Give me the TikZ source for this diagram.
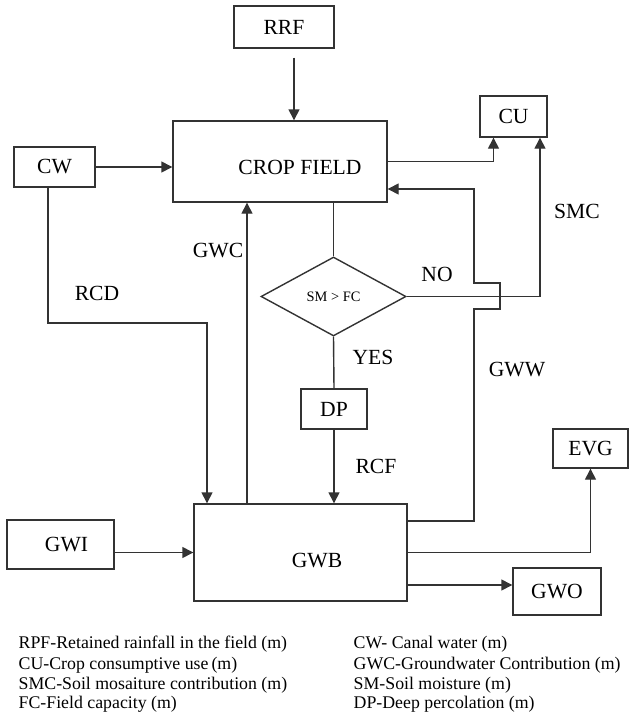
\documentclass[tikz,border=0pt]{standalone}
\usepackage{fontspec}
\setmainfont{Liberation Serif}
\usetikzlibrary{shapes.geometric,arrows.meta,positioning}

\begin{document}
\begin{tikzpicture}[
    x=0.5pt, y=-0.5pt,
    font=\fontsize{10.8}{13}\selectfont,
    line width=0.7pt,
    box/.style={rectangle, draw=black!80, inner sep=0pt, align=center},
    decision/.style={diamond, draw=black!80, inner sep=0pt, font=\fontsize{7.2}{9}\selectfont},
    arrow/.style={draw=black!80, -{Triangle[length=5.5pt,width=5.5pt]}},
    line/.style={draw=black!80},
    lbl/.style={inner sep=0pt},
    legend/.style={anchor=west, inner sep=0pt, font=\fontsize{8.9}{11}\selectfont}
]
\useasboundingbox (0,0) rectangle (630,712);

\node[box, minimum width=50pt, minimum height=21pt] (rrf) at (284,27) {RRF};
\node[box, minimum width=107pt, minimum height=40.5pt,
      label={[xshift=10pt,yshift=-2.75pt]center:CROP FIELD}] (crop) at (280,161.5) {};
\node[box, minimum width=40.5pt, minimum height=20pt] (cw) at (54.5,167) {CW};
\node[box, minimum width=33.5pt, minimum height=20.5pt] (cu) at (513.5,116.5) {CU};
\node[decision, minimum width=72.5pt, minimum height=39.5pt] (sm) at (333.5,296.5) {SM > FC};
\node[box, minimum width=33pt, minimum height=20pt] (dp) at (334,409) {DP};
\node[box, minimum width=106.5pt, minimum height=48.5pt,
      label={[xshift=8.25pt,yshift=-4pt]center:GWB}] (gwb) at (300.5,552.5) {};
\node[box, minimum width=53.5pt, minimum height=24.5pt] (gwi) at (60.5,544.5) {\hspace*{6pt}GWI};
\node[box, minimum width=37.5pt, minimum height=19.5pt] (evg) at (590.5,448.5) {EVG};
\node[box, minimum width=44pt, minimum height=23.5pt] (gwo) at (557,591.5) {GWO};

\coordinate (rcd) at (207,323);
\coordinate (gww) at (474,521);
\coordinate (gwwtop) at (474,189);
\coordinate (gwoy) at (0,585);

\draw[arrow, shorten <=4.5pt] ([xshift=5pt]rrf.south) -- ([xshift=5pt]rrf.south |- crop.north);
\draw[arrow] (cw.east) -- (cw.east -| crop.west);
\draw[arrow] (crop.east) -| ([xshift=-10pt]cu.south);
\draw[arrow] ([xshift=-3.25pt]cw.south) |- (rcd) -- (rcd |- gwb.north);
\draw[arrow] ([xshift=-26.75pt]gwb.north) -- ([xshift=-26.75pt]gwb.north |- crop.south);
\draw[line] (crop.south -| sm.north) -- (sm.north);
\draw[arrow] (sm.east) -| ([xshift=13.25pt]cu.south);
\draw[line] (sm.south) -- (dp.north);
\draw[arrow] (dp.south) -- (dp.south |- gwb.north);
\draw[arrow] (gww -| gwb.east) -- (gww) -- (474,309) -- (500,309) -- (500,283) -- (474,283)
    -- (gwwtop) -- (gwwtop -| crop.east);
\draw[arrow] (gwi.east |- gwb.west) -- (gwb.west);
\draw[arrow] (gwb.east) -| (evg.south);
\draw[arrow] (gwoy -| gwb.east) -- (gwoy -| gwo.west);

\node[lbl] (rcdlbl) at (97,293) {RCD};
\node[lbl] (gwclbl) at (218,251) {GWC};
\node[lbl] (nolbl) at (437,274) {NO};
\node[lbl] (smclbl) at (577,211) {SMC};
\node[lbl] (yeslbl) at (373,357) {YES};
\node[lbl] (gwwlbl) at (517,370) {GWW};
\node[lbl] (rcflbl) at (376,466) {RCF};

\node[legend] (leg1) at (18,644) {RPF-Retained rainfall in the field (m)};
\node[legend] (leg2) at (18,665) {CU-Crop consumptive use\,(m)};
\node[legend] (leg3) at (18,685) {SMC-Soil mosaiture contribution (m)};
\node[legend] (leg4) at (18,704) {FC-Field capacity (m)};
\node[legend] (leg5) at (353,644) {CW- Canal water (m)};
\node[legend] (leg6) at (353,665) {GWC-Groundwater Contribution (m)};
\node[legend] (leg7) at (353,685) {SM-Soil moisture (m)};
\node[legend] (leg8) at (353,704) {DP-Deep percolation (m)};
\end{tikzpicture}
\end{document}
